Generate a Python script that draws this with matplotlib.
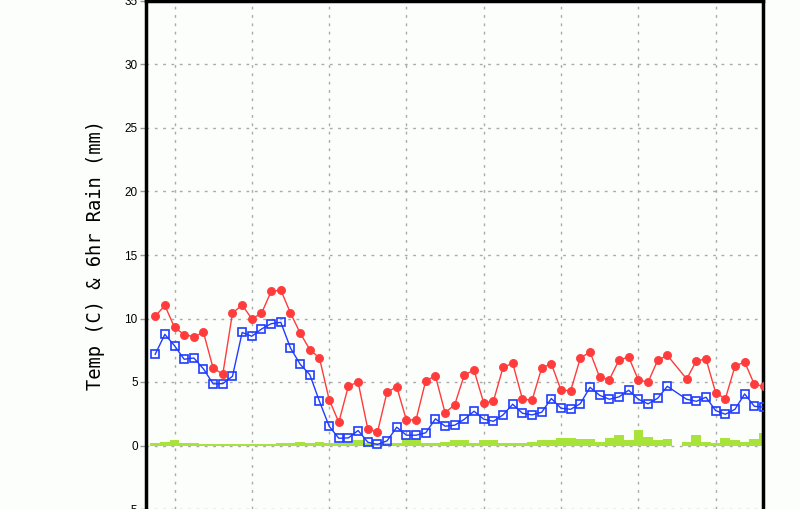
import numpy as np
import matplotlib
matplotlib.use("Agg")
import matplotlib.pyplot as plt

nan = np.nan
# 6-hourly steps
steps = list(range(64))

temp_max = [10.17, 11.03, 9.3, 8.73, 8.57, 8.9, 6.08, 5.63, 10.43, 11.06,
            9.98, 10.4, 12.13, 12.24, 10.43, 8.86, 7.55, 6.89, 3.62, 1.83,
            4.7, 4.98, 1.31, 1.05, 4.22, 4.61, 1.99, 2.04, 5.11, 5.48,
            2.57, 3.22, 5.58, 5.92, 3.35, 3.48, 6.16, 6.47, 3.67, 3.56,
            6.11, 6.43, 4.35, 4.32, 6.89, 7.36, 5.37, 5.19, 6.73, 6.97,
            5.16, 4.98, 6.71, 7.1, nan, 5.24, 6.66, 6.81, 4.17, 3.67,
            6.24, 6.58, 4.82, 4.66]

temp_min = [7.18, 8.75, 7.86, 6.79, 6.89, 6.03, 4.85, 4.87, 5.45, 8.9,
            8.6, 9.17, 9.59, 9.7, 7.68, 6.4, 5.58, 3.48, 1.52, 0.57,
            0.6, 1.18, 0.26, 0.08, 0.37, 1.44, 0.81, 0.81, 1.0, 2.1,
            1.52, 1.6, 2.07, 2.7, 2.07, 1.91, 2.41, 3.25, 2.54, 2.41,
            2.62, 3.7, 2.93, 2.85, 3.3, 4.58, 3.95, 3.64, 3.83, 4.35,
            3.64, 3.28, 3.72, 4.66, nan, 3.64, 3.48, 3.8, 2.75, 2.46,
            2.85, 4.06, 3.09, 3.01]

rain = [0.18, 0.26, 0.42, 0.18, 0.18, 0.08, 0.08, 0.08, 0.08, 0.08,
        0.08, 0.08, 0.08, 0.18, 0.18, 0.26, 0.18, 0.26, 0.18, 0.18,
        0.18, 0.42, 0.18, 0.18, 0.18, 0.18, 0.55, 0.55, 0.18, 0.18,
        0.26, 0.42, 0.42, 0.18, 0.42, 0.42, 0.18, 0.18, 0.18, 0.26,
        0.42, 0.42, 0.58, 0.58, 0.5, 0.5, 0.26, 0.58, 0.81, 0.42,
        1.21, 0.66, 0.42, 0.5, nan, 0.26, 0.81, 0.26, 0.18, 0.58,
        0.42, 0.26, 0.5, 0.97]

y_ticks = [-5, 0, 5, 10, 15, 20, 25, 30, 35]
x_grid = [2, 10, 18, 26, 34, 42, 50, 58]
ylabel = "Temp (C) & 6hr Rain (mm)"

bg = "#fcfefc"
fig = plt.figure(figsize=(8.0, 5.09), dpi=100, facecolor=bg)
ax = fig.add_axes([146/800, 0.0, (763-146)/800, 508/509])
ax.set_facecolor(bg)

x = np.array(steps, dtype=float)
tmax = np.array(temp_max)
tmin = np.array(temp_min)
rr = np.array(rain)

mr = ~np.isnan(rr)
ax.bar(x[mr], rr[mr], width=1.0, color="#a8e33a", edgecolor="none", zorder=2)

m1 = ~np.isnan(tmin)
ax.plot(x[m1], tmin[m1], color="#1f3cff", lw=1.0, marker="s", ms=6.0,
        mfc="none", mec="#1f3cff", mew=1.2, zorder=3)
m2 = ~np.isnan(tmax)
ax.plot(x[m2], tmax[m2], color="#ff3b3b", lw=1.0, marker="o", ms=5.8,
        mfc="#ff3b3b", mec="#ff3b3b", mew=0.6, zorder=4)

ax.set_xlim(-0.95, 62.9)
ax.set_ylim(-5, 35)
ax.set_yticks(y_ticks)
ax.set_yticklabels([str(v) for v in y_ticks], fontfamily="Liberation Sans", fontsize=8.5)
ax.set_xticks(x_grid)
ax.set_xticklabels([])
ax.tick_params(axis="y", length=4, width=1, color="#999999", pad=2, direction="out")
ax.tick_params(axis="x", length=0)

ax.grid(True, color="#aaaaaa", linestyle=(0, (2, 4)), linewidth=1.0, zorder=0)
ax.set_axisbelow(True)

for s in ["left", "right", "top"]:
    ax.spines[s].set_linewidth(2.5)
    ax.spines[s].set_color("black")
ax.spines["bottom"].set_visible(False)

ax.set_ylabel(ylabel, fontfamily="DejaVu Sans Mono", fontsize=13.5)
ax.yaxis.set_label_coords(-0.066, 0.5)

fig.savefig("out.png", dpi=100, facecolor=bg)
